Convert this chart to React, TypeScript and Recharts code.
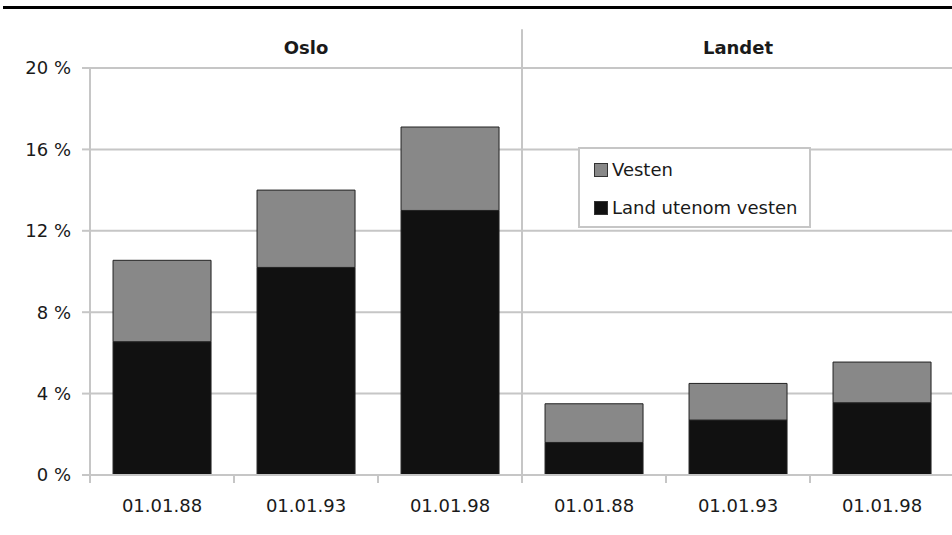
import { BarChart, Bar, XAxis, YAxis, CartesianGrid, ReferenceLine } from 'recharts';

// Andel innvandrere, Oslo og landet ellers
const CATEGORIES = ['oslo-88', 'oslo-93', 'oslo-98', 'landet-88', 'landet-93', 'landet-98'];
const TICK_LABELS = ['01.01.88', '01.01.93', '01.01.98', '01.01.88', '01.01.93', '01.01.98'];
const LAND_UTENOM_VESTEN = [6.55, 10.2, 13.0, 1.6, 2.7, 3.55];
const VESTEN = [4.0, 3.8, 4.1, 1.9, 1.8, 2.0];
const GROUPS = ['Oslo', 'Landet'];
const Y_TICKS = [0, 4, 8, 12, 16, 20];

const FONT = '"DejaVu Sans", sans-serif';
const TEXT = '#1a1a1a';
const GRID = '#c6c6c6';
const BLACK = '#111111';
const GRAY = '#888888';

const data = CATEGORIES.map((key, i) => ({
  key,
  pos: i + 0.5,
  land: LAND_UTENOM_VESTEN[i],
  vesten: VESTEN[i],
}));

const BOTTOM_TICKS = Array.from({ length: 13 }, (_, i) => i / 2);
const GROUP_TICKS = GROUPS.map((_, i) => i * 3 + 1.5);

function BottomTick(props: any) {
  const { x, y, payload } = props;
  const v = payload.value as number;
  if (Number.isInteger(v)) {
    return <line x1={x} x2={x} y1={y} y2={y + 8} stroke={GRID} strokeWidth={2} />;
  }
  const label = TICK_LABELS[Math.floor(v)];
  return (
    <text x={x} y={y + 37} textAnchor="middle" fontSize={18} fill={TEXT} fontFamily={FONT}>
      {label}
    </text>
  );
}

function GroupTick(props: any) {
  const { x, y, payload } = props;
  const label = GROUPS[Math.floor((payload.value as number) / 3)];
  return (
    <text x={x} y={y - 14} textAnchor="middle" fontSize={18} fontWeight="bold" fill={TEXT} fontFamily={FONT}>
      {label}
    </text>
  );
}

const LEGEND_ITEMS = [
  { name: 'Vesten', color: GRAY },
  { name: 'Land utenom vesten', color: BLACK },
];

export default function App() {
  return (
    <div
      style={{
        position: 'absolute',
        left: 0,
        top: 0,
        width: 952,
        height: 535,
        overflow: 'hidden',
        background: '#fff',
        fontFamily: FONT,
      }}
    >
      <div style={{ position: 'absolute', left: 3, top: 6, width: 949, height: 3, background: '#000' }} />
      <BarChart
        width={960}
        height={535}
        data={data}
        margin={{ top: 28, right: 6, left: 0, bottom: 0 }}
        barCategoryGap="16%"
        style={{ fontFamily: FONT }}
      >
        <CartesianGrid horizontal vertical={false} stroke={GRID} strokeWidth={2} />
        <XAxis xAxisId="cat" dataKey="key" hide />
        <XAxis
          xAxisId="bottom"
          dataKey="pos"
          type="number"
          domain={[0, 6]}
          allowDataOverflow
          ticks={BOTTOM_TICKS}
          interval={0}
          tickSize={0}
          tickMargin={0}
          tickLine={false}
          axisLine={{ stroke: GRID, strokeWidth: 2 }}
          tick={<BottomTick />}
          height={60}
        />
        <XAxis
          xAxisId="group"
          dataKey="pos"
          orientation="top"
          type="number"
          domain={[0, 6]}
          allowDataOverflow
          ticks={GROUP_TICKS}
          interval={0}
          tickSize={0}
          tickMargin={0}
          tickLine={false}
          axisLine={false}
          tick={<GroupTick />}
          height={40}
        />
        <YAxis
          domain={[0, 20]}
          ticks={Y_TICKS}
          allowDataOverflow
          width={90}
          tickSize={8}
          tickMargin={11}
          tickLine={{ stroke: GRID, strokeWidth: 2 }}
          axisLine={{ stroke: GRID, strokeWidth: 2 }}
          tick={{ fill: TEXT, fontSize: 18, fontFamily: FONT }}
          tickFormatter={(v) => `${v} %`}
        />
        <ReferenceLine
          xAxisId="bottom"
          segment={[{ x: 3, y: 0 }, { x: 3, y: 21.9 }]}
          ifOverflow="visible"
          stroke={GRID}
          strokeWidth={2}
        />
        <Bar
          xAxisId="cat"
          dataKey="land"
          name="Land utenom vesten"
          stackId="a"
          fill={BLACK}
          stroke="#222"
          strokeWidth={1}
          isAnimationActive={false}
        />
        <Bar
          xAxisId="cat"
          dataKey="vesten"
          name="Vesten"
          stackId="a"
          fill={GRAY}
          stroke="#222"
          strokeWidth={1}
          isAnimationActive={false}
        />
      </BarChart>
      <div
        style={{
          position: 'absolute',
          left: 578,
          top: 147,
          width: 229,
          height: 77,
          border: `2px solid ${GRID}`,
          background: '#fff',
          boxSizing: 'content-box',
        }}
      >
        {LEGEND_ITEMS.map((item, i) => (
          <div
            key={item.name}
            style={{
              position: 'absolute',
              left: 14,
              top: 9 + i * 38,
              display: 'flex',
              alignItems: 'center',
              fontSize: 18,
              color: TEXT,
              whiteSpace: 'nowrap',
              lineHeight: '24px',
            }}
          >
            <span
              style={{
                display: 'inline-block',
                width: 12,
                height: 12,
                background: item.color,
                border: '1px solid #333',
                marginRight: 4,
              }}
            />
            {item.name}
          </div>
        ))}
      </div>
    </div>
  );
}
